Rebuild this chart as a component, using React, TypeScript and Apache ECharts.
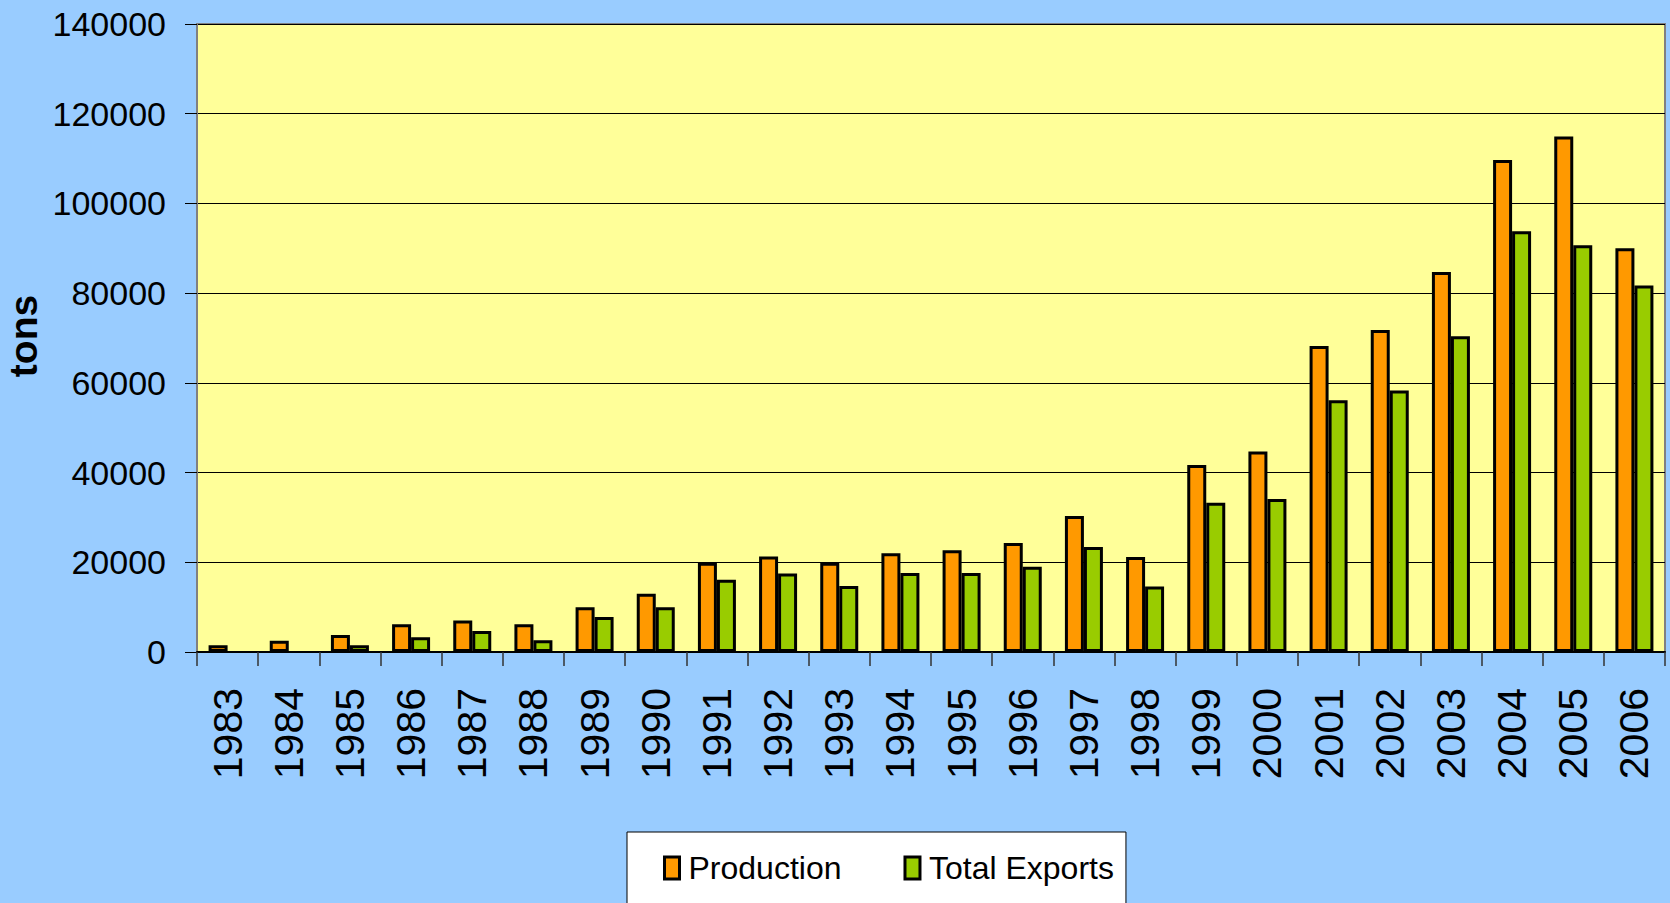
import React, { useEffect, useRef } from "react";
import * as echarts from "echarts";

const years = ["1983","1984","1985","1986","1987","1988","1989","1990","1991","1992","1993","1994","1995","1996","1997","1998","1999","2000","2001","2002","2003","2004","2005","2006"];
const production = [1500, 2500, 3800, 6200, 7000, 6200, 10000, 13000, 19900, 21300, 19900, 22000, 22700, 24300, 30300, 21200, 41700, 44700, 68200, 71800, 84700, 109700, 114900, 90000];
const totalExports = [null, null, 1500, 3300, 4700, 2600, 7800, 10000, 16100, 17500, 14700, 17600, 17600, 19000, 23400, 14600, 33300, 34100, 56100, 58300, 70400, 93800, 90700, 81700];
const yMin = 0;
const yMax = 140000;
const yStep = 20000;

const SANS = "'Liberation Sans', Arial, sans-serif";

export default function App() {
  const ref = useRef<HTMLDivElement>(null);
  useEffect(() => {
    document.body.style.margin = "0";
    if (!ref.current) return;
    const chart = echarts.init(ref.current, null, { renderer: "svg" });
    chart.setOption({
      animation: false,
      backgroundColor: "#99CCFF",
      grid: {
        left: 197,
        right: 5,
        top: 24,
        bottom: 251,
        show: true,
        backgroundColor: "#FFFF99",
        borderColor: "#808080",
        borderWidth: 2,
      },
      graphic: [
        {
          type: "text",
          x: 23,
          y: 336,
          rotation: Math.PI / 2,
          style: {
            text: "tons",
            fontFamily: SANS,
            fontWeight: "bold",
            fontSize: 39,
            fill: "#000",
            align: "center",
            verticalAlign: "middle",
          },
        },
      ],
      legend: {
        left: 627,
        top: 832,
        orient: "horizontal",
        backgroundColor: "#FFFFFF",
        borderColor: "#000000",
        borderWidth: 1,
        padding: [20, 12, 30, 36],
        itemWidth: 15,
        itemHeight: 22,
        itemGap: 62,
        icon: "rect",
        itemStyle: { borderColor: "#000", borderWidth: 3 },
        textStyle: {
          fontFamily: SANS,
          fontSize: 32,
          color: "#000",
          padding: [0, 0, 0, 4],
        },
        data: ["Production", "Total Exports"],
      },
      xAxis: {
        type: "category",
        data: years,
        boundaryGap: true,
        axisLine: { show: true, lineStyle: { color: "#000", width: 2 } },
        axisTick: {
          show: true,
          interval: 0,
          length: 14,
          lineStyle: { color: "#333", width: 1.5 },
        },
        axisLabel: {
          interval: 0,
          rotate: 90,
          margin: 36,
          fontFamily: SANS,
          fontSize: 41,
          color: "#000",
        },
      },
      yAxis: {
        type: "value",
        min: yMin,
        max: yMax,
        interval: yStep,
        axisLine: { show: true, lineStyle: { color: "#808080", width: 2 } },
        axisTick: { show: true, length: 12, lineStyle: { color: "#000", width: 1 } },
        splitLine: { show: true, lineStyle: { color: "#000", width: 1 } },
        axisLabel: {
          margin: 31,
          fontFamily: SANS,
          fontSize: 34,
          color: "#000",
          formatter: (v: number) => String(v),
        },
      },
      series: [
        {
          name: "Production",
          type: "bar",
          data: production,
          barWidth: 19,
          barGap: "0%",
          itemStyle: { color: "#FF9900", borderColor: "#000", borderWidth: 3 },
        },
        {
          name: "Total Exports",
          type: "bar",
          data: totalExports,
          barWidth: 19,
          barGap: "0%",
          itemStyle: { color: "#99CC00", borderColor: "#000", borderWidth: 3 },
        },
      ],
    });
    return () => chart.dispose();
  }, []);
  return <div ref={ref} style={{ width: 1670, height: 903 }} />;
}
